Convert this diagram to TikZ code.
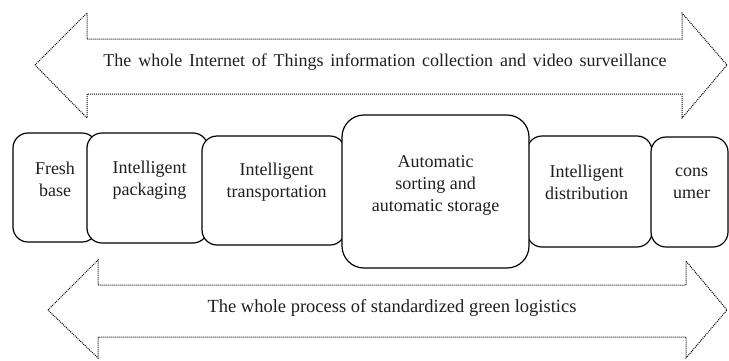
\documentclass[tikz,border=0pt]{standalone}
\usepackage{fontspec}
\setmainfont{Liberation Serif}
\usetikzlibrary{calc}
\begin{document}
\begin{tikzpicture}[x=1bp,y=-1bp,
  stagebox/.style={draw=black, fill=white, line width=1.2bp, rounded corners=#1, inner sep=0pt},
  stagebox/.default=15bp,
  lbl/.style={font=\fontsize{18bp}{22bp}\selectfont, align=center, inner sep=0pt, text=black!88},
  dotarrow/.style={draw=black, line width=1bp, dash pattern=on 1bp off 1bp, line join=miter}
]
\useasboundingbox (0,0) rectangle (729,360);

% top dotted double arrow
\draw[dotarrow] (35,65) -- (87,13) -- (87,39) -- (682,39) -- (682,13) -- (727,65)
  -- (682,118) -- (682,94) -- (87,94) -- (87,118) -- cycle;
\node[lbl] (toptxt) at (385,62) {\makebox[563bp][s]{The whole Internet of Things information collection and video surveillance}};

% bottom dotted double arrow
\draw[dotarrow] (48,310) -- (98,260) -- (98,285) -- (686,285) -- (686,261) -- (727,310)
  -- (686,358) -- (686,337) -- (98,337) -- (98,358) -- cycle;
\node[lbl, font=\fontsize{18.5bp}{22bp}\selectfont] (bottxt) at (392,308) {The whole process of standardized green logistics};

% stage boxes
\node[stagebox, minimum width=84bp, minimum height=109bp] (fresh) at (55,187.5) {};
\node[stagebox, minimum width=121bp, minimum height=110bp] (pack) at (147.5,188) {};
\node[stagebox, minimum width=143bp, minimum height=109bp] (trans) at (273.5,190.5) {};
\node[stagebox, minimum width=125bp, minimum height=111bp] (dist) at (589.5,191.5) {};
\node[stagebox, minimum width=77bp, minimum height=110bp] (cons) at (689.5,192) {};
\node[stagebox=22bp, minimum width=187bp, minimum height=153bp] (sort) at (435.5,191.5) {};

% labels
\node[lbl] (freshtxt) at ([yshift=8bp]fresh.center) {Fresh\\base};
\node[lbl] (packtxt) at ([xshift=2bp,yshift=8bp]pack.center) {Intelligent\\packaging};
\node[lbl] (transtxt) at ([xshift=3bp,yshift=8bp]trans.center) {Intelligent\\transportation};
\node[lbl] (sorttxt) at ([yshift=6bp]sort.center) {Automatic\\sorting and\\automatic storage};
\node[lbl] (disttxt) at ([xshift=-3bp,yshift=9bp]dist.center) {Intelligent\\distribution};
\node[lbl] (constxt) at ([xshift=2bp,yshift=9bp]cons.center) {cons\\umer};
\end{tikzpicture}
\end{document}
